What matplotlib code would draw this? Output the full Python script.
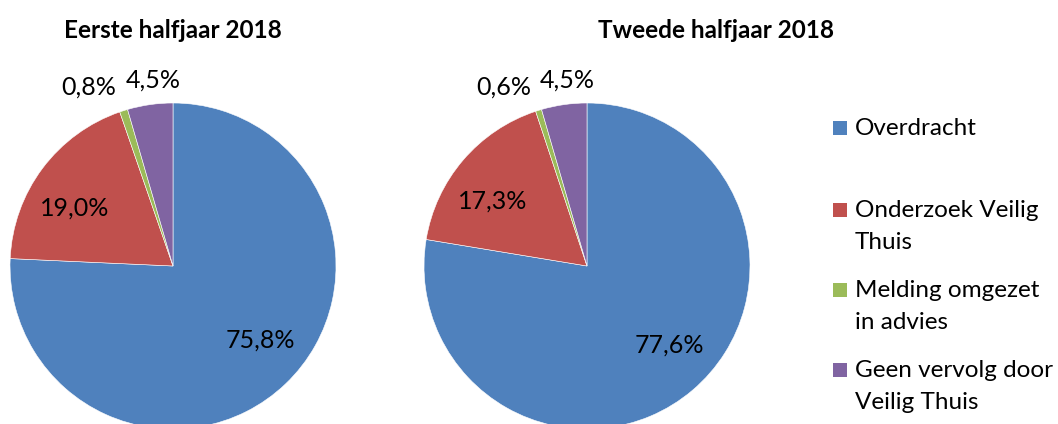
import numpy as np
import matplotlib
matplotlib.use("Agg")
from matplotlib import pyplot as plt
from matplotlib.patches import Rectangle

# data
categories = ["Overdracht", "Onderzoek Veilig\nThuis", "Melding omgezet\nin advies",
              "Geen vervolg door\nVeilig Thuis"]
colors = ["#4F81BD", "#C0504D", "#9BBB59", "#8064A2"]
titles = ["Eerste halfjaar 2018", "Tweede halfjaar 2018"]
first_half = [75.8, 19.0, 0.8, 4.5]
second_half = [77.6, 17.3, 0.6, 4.5]

W, H = 1058, 424
plt.rcParams['font.family'] = ['Lato', 'DejaVu Sans']

fig = plt.figure(figsize=(W / 100, H / 100), dpi=100)


def px_axes(left, top, size):
    return fig.add_axes([left / W, (H - top - size) / H, size / W, size / H])


def draw_pie(ax, values):
    wedges, _ = ax.pie(values, colors=colors, startangle=90, counterclock=False,
                       radius=1.0, wedgeprops=dict(linewidth=0.4, edgecolor="white"))
    for i, (w, v) in enumerate(zip(wedges, values)):
        mid = (w.theta1 + w.theta2) / 2
        label = f"{v:.1f}%".replace(".", ",")
        if v >= 10:
            # Excel puts the inside labels a little anticlockwise of the middle
            r, ha, mid = 0.70, "center", mid + 6
        elif i == 2:
            r, ha = 1.15, "right"
        else:
            r, ha, mid = 1.15, "center", mid - 2
        ang = np.deg2rad(mid)
        ax.text(r * np.cos(ang), r * np.sin(ang), label, ha=ha, va="center",
                fontsize=18, color="black", clip_on=False)
    ax.set_xlim(-1, 1)
    ax.set_ylim(-1, 1)
    ax.set_aspect("equal")
    ax.axis("off")


ax1 = px_axes(10, 103, 326)
draw_pie(ax1, first_half)
ax2 = px_axes(424, 103, 326)
draw_pie(ax2, second_half)

fig.text(173 / W, 1 - 31 / H, titles[0], ha="center", va="center",
         fontsize=17.5, fontweight="bold")
fig.text(716 / W, 1 - 31 / H, titles[1], ha="center", va="center",
         fontsize=17.5, fontweight="bold")

# legend, drawn by hand to follow the reference spacing
legend_top = [128, 210, 290, 370]
for lab, col, yy in zip(categories, colors, legend_top):
    fig.patches.append(Rectangle((833 / W, 1 - (yy + 7) / H), 14 / W, 14 / H,
                                 transform=fig.transFigure, facecolor=col,
                                 edgecolor="none"))
    fig.text(855 / W, 1 - (yy - 10) / H, lab, ha="left", va="top",
             fontsize=17.5, linespacing=1.65)

fig.savefig("out.png", dpi=100)
